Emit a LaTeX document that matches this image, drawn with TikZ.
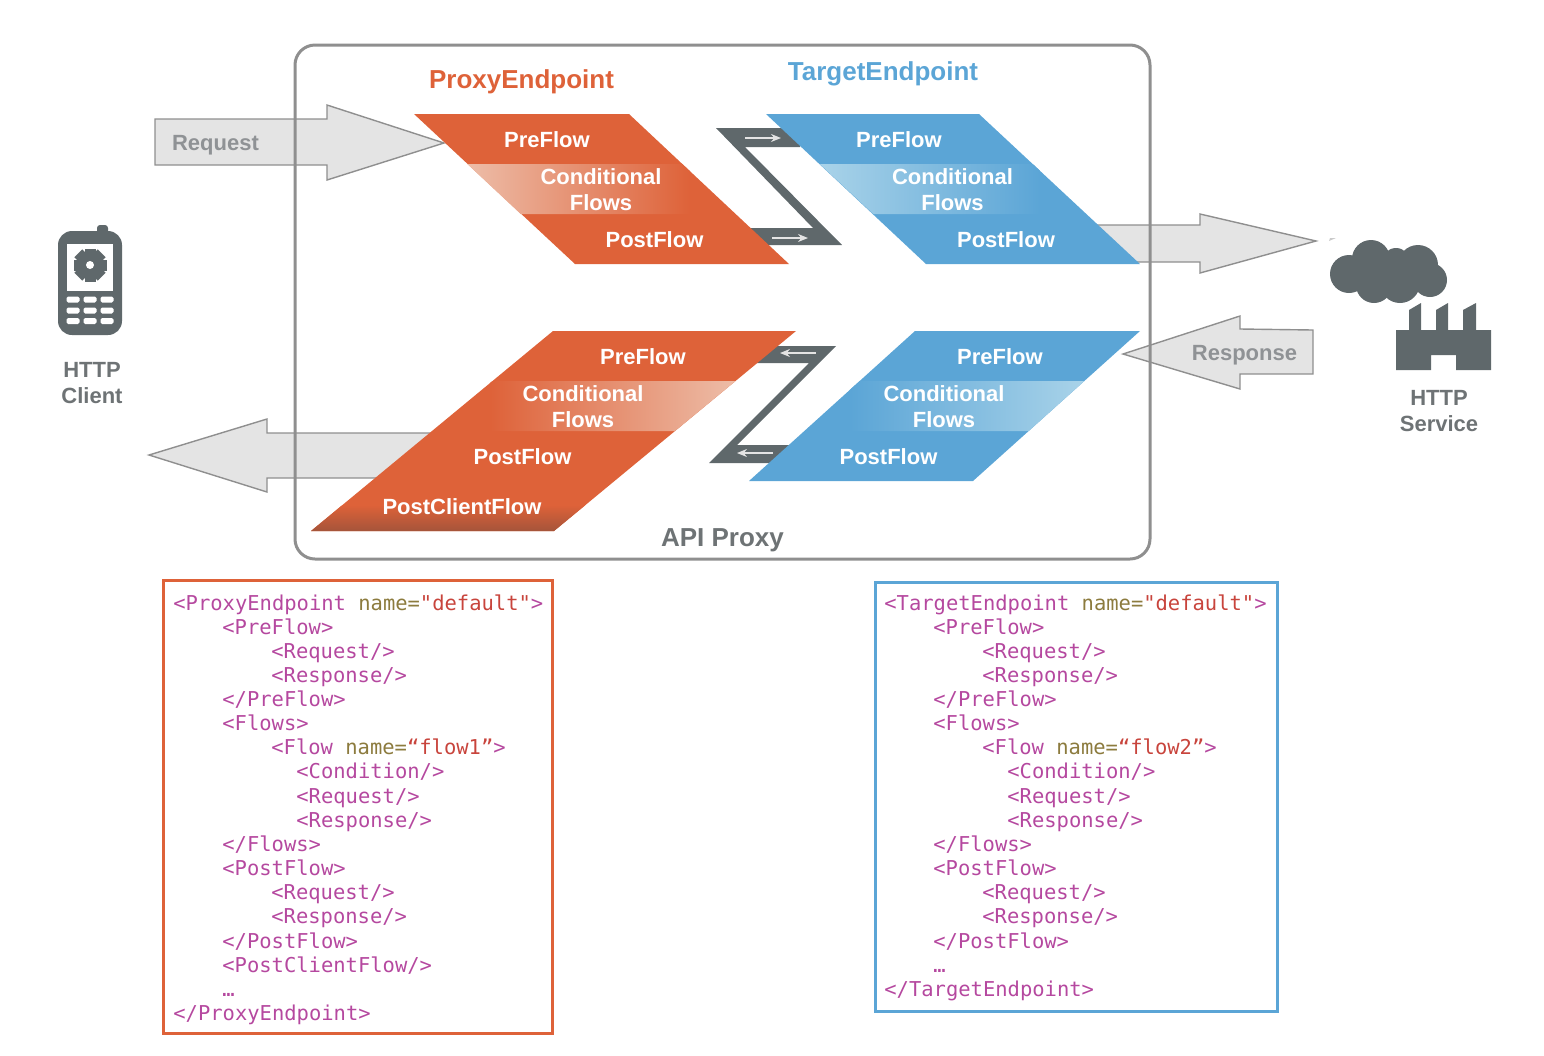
\documentclass[tikz,border=0pt]{standalone}
\usepackage{fontspec}
\setmainfont{Liberation Sans}
\newfontfamily\codefont{DejaVu Sans Mono}
\usetikzlibrary{arrows.meta}
\definecolor{org}{HTML}{DE6239}
\definecolor{orgl}{HTML}{EDBDA8}
\definecolor{orgd}{HTML}{A5543A}
\definecolor{blu}{HTML}{5BA5D6}
\definecolor{blul}{HTML}{A9D3E9}
\definecolor{dk}{HTML}{5F686B}
\definecolor{gtx}{HTML}{6E7375}
\definecolor{gtl}{HTML}{8F9295}
\definecolor{fr}{HTML}{8F8F8F}
\definecolor{arf}{HTML}{E4E4E4}
\definecolor{tagc}{HTML}{B5489F}
\definecolor{attc}{HTML}{8C7B3E}
\definecolor{valc}{HTML}{C8443C}
\tikzset{
  x=0.5pt,y=-0.5pt,
  bigarrow/.style={fill=arf,draw=fr,line width=0.7pt,line join=miter},
  flowlabel/.style={text=white,font=\bfseries\fontsize{11}{13}\selectfont,align=center,inner sep=0pt},
  greylabel/.style={text=gtx,font=\bfseries\fontsize{11}{13}\selectfont,align=center,inner sep=0pt},
  arrowlabel/.style={text=gtl,font=\bfseries\fontsize{11}{13}\selectfont,inner sep=0pt},
  titlelabel/.style={font=\bfseries\fontsize{13}{15}\selectfont,inner sep=0pt},
  codeline/.style={anchor=base west,inner sep=0pt,text=tagc,font=\codefont\fontsize{10.24}{12}\selectfont},
  wire/.style={draw=arf,line width=0.7pt,-{Stealth[length=5pt,width=4pt]}},
  zshape/.style={fill=dk},
  icon/.style={fill=dk}
}
\newcommand{\att}[1]{\textcolor{attc}{#1}}
\newcommand{\val}[1]{\textcolor{valc}{#1}}
\newcommand{\cdl}[4]{\node[codeline] (#1) at (#2,#3) {#4};}
\begin{document}
\begin{tikzpicture}
\useasboundingbox (0,0) rectangle (1544,1056);
% grey arrows
\draw[bigarrow] (155,119) -- (327,119) -- (327,105) -- (444,143) -- (327,180) -- (327,165) -- (155,165) -- cycle;
\draw[bigarrow] (1090,225) -- (1200,225) -- (1200,214) -- (1316,241) -- (1200,273) -- (1200,262) -- (1090,262) -- cycle;
\draw[bigarrow] (1123,354) -- (1240,316) -- (1240,329) -- (1313,330) -- (1313,374) -- (1240,374) -- (1240,389) -- cycle;
\draw[bigarrow] (149,455) -- (267,419) -- (267,433) -- (450,433) -- (450,478) -- (267,478) -- (267,492) -- cycle;
\fill[arf!70!fr] (1329,241) -- (1336,238) -- (1330,238) -- cycle;
% API proxy frame
\draw[fr,line width=1.5pt,rounded corners=10pt] (295,45) rectangle (1150,559);
% Z connectors
\fill[zshape] (716,128) -- (800,128) -- (800,147) -- (745,147) -- (842,245) -- (765,245) -- (750,228) -- (813,228) -- cycle;
\fill[zshape] (836,346) -- (770,346) -- (755,363) -- (809,363) -- (709,463) -- (770,463) -- (790,445) -- (737,445) -- cycle;
% Proxy request
\fill[org] (414,114) -- (629,114) -- (789,264) -- (575,264) -- cycle;
\begin{scope}
\clip (467.3,164) -- (682.3,164) -- (735.7,214) -- (520.7,214) -- cycle;
\shade[left color=orgl,right color=org] (467,164) rectangle (690,214);
\end{scope}
% Target request
\fill[blu] (766,114) -- (979,114) -- (1140,264) -- (926,264) -- cycle;
\begin{scope}
\clip (819.7,164) -- (1032.7,164) -- (1086.3,214) -- (873.3,214) -- cycle;
\shade[left color=blul,right color=blu] (820,164) rectangle (1040,214);
\end{scope}
% Proxy response
\fill[org] (553,331) -- (796,331) -- (554,531) -- (311,531) -- cycle;
\begin{scope}
\clip (492.5,381) -- (735.5,381) -- (675,431) -- (432,431) -- cycle;
\shade[left color=org,right color=orgl] (490,381) rectangle (736,431);
\end{scope}
\begin{scope}
\clip (553,331) -- (796,331) -- (554,531) -- (311,531) -- cycle;
\shade[top color=org,bottom color=orgd] (300,505) rectangle (600,531);
\end{scope}
% Target response
\fill[blu] (915,331) -- (1140,331) -- (973,481) -- (749,481) -- cycle;
\begin{scope}
\clip (859.7,381) -- (1084.3,381) -- (1028.7,431) -- (804.3,431) -- cycle;
\shade[left color=blu,right color=blul] (850,381) rectangle (1085,431);
\end{scope}
% wires
\coordinate (w1a) at (745,138); \coordinate (w1b) at (781,138);
\coordinate (w2a) at (772,238); \coordinate (w2b) at (808,238);
\coordinate (w3a) at (816,353); \coordinate (w3b) at (780,353);
\coordinate (w4a) at (773,453); \coordinate (w4b) at (737,453);
\draw[wire] (w1a) -- (w1b);
\draw[wire] (w2a) -- (w2b);
\draw[wire] (w3a) -- (w3b);
\draw[wire] (w4a) -- (w4b);
% labels
\node[titlelabel,text=org] (pe) at (521.5,82) {ProxyEndpoint};
\node[titlelabel,text=blu] (te) at (883,74) {TargetEndpoint};
\node[titlelabel,text=gtx] (api) at (722.5,540) {API Proxy};
\node[arrowlabel] (req) at (215.5,145) {Request};
\node[arrowlabel] (resp) at (1244.5,355) {Response};
\node[greylabel] (cl) at (92,383) {HTTP\\Client};
\node[greylabel] (sv) at (1439,411) {HTTP\\Service};
\node[flowlabel] (a1) at (547,140) {PreFlow};
\node[flowlabel] (a2) at (601,190) {Conditional\\Flows};
\node[flowlabel] (a3) at (654.5,240) {PostFlow};
\node[flowlabel] (b1) at (899,140) {PreFlow};
\node[flowlabel] (b2) at (952.5,190) {Conditional\\Flows};
\node[flowlabel] (b3) at (1006,240) {PostFlow};
\node[flowlabel] (c1) at (643,357) {PreFlow};
\node[flowlabel] (c2) at (583,407) {Conditional\\Flows};
\node[flowlabel] (c3) at (522.5,457) {PostFlow};
\node[flowlabel] (c4) at (462,507) {PostClientFlow};
\node[flowlabel] (d1) at (1000,357) {PreFlow};
\node[flowlabel] (d2) at (944,407) {Conditional\\Flows};
\node[flowlabel] (d3) at (888.5,457) {PostFlow};
% phone
\fill[icon,rounded corners=1.5pt] (97,225) rectangle (108,236);
\fill[icon,rounded corners=7pt] (58,231) rectangle (122,335);
\fill[white] (67,244) rectangle (113,291);
\foreach \a in {0,45,...,315}{\fill[icon,rotate around={\a:(90,265)}] (84.5,248.5) rectangle (95.5,258);}
\fill[icon] (90,265) circle[radius=12.5];
\fill[white] (90,265) circle[radius=4];
\foreach \kx in {73,90,107}{\foreach \ky in {299.5,310.5,321}{\fill[white,rounded corners=0.8pt] (\kx-6.5,\ky-3) rectangle (\kx+6.5,\ky+3);}}
% cloud
\foreach \cx/\cy/\cr in {1349/274/19,1371/259/19,1374/285/18,1400/283/20,1418/265/20,1430/280/17,1396/262/14,1385/270/18}{\fill[icon] (\cx,\cy) circle[radius=\cr];}
% factory
\fill[icon] (1396,330) -- (1409,330) -- (1409,310) -- (1421,303) -- (1421,330) -- (1436,330) -- (1436,310) -- (1448,303) -- (1448,330) -- (1463,330) -- (1463,310) -- (1476,303) -- (1476,330) -- (1491,330) -- (1491,370) -- (1456,370) -- (1456,355) -- (1431,355) -- (1431,370) -- (1396,370) -- cycle;
% code boxes
\draw[org,line width=1.5pt] (163,580) rectangle (552,1033);
\draw[blu,line width=1.5pt] (875,582) rectangle (1277,1011);
% proxy code
\cdl{p1}{173}{610}{<ProxyEndpoint \att{name=}\val{"default"}>}
\cdl{p2}{222}{634}{<PreFlow>}
\cdl{p3}{271}{658}{<Request/>}
\cdl{p4}{271}{682}{<Response/>}
\cdl{p5}{222}{706}{</PreFlow>}
\cdl{p6}{222}{730}{<Flows>}
\cdl{p7}{271}{754}{<Flow \att{name=}\val{“flow1”}>}
\cdl{p8}{296}{778}{<Condition/>}
\cdl{p9}{296}{803}{<Request/>}
\cdl{p10}{296}{827}{<Response/>}
\cdl{p11}{222}{851}{</Flows>}
\cdl{p12}{222}{875}{<PostFlow>}
\cdl{p13}{271}{899}{<Request/>}
\cdl{p14}{271}{923.5}{<Response/>}
\cdl{p15}{222}{948}{</PostFlow>}
\cdl{p16}{222}{972}{<PostClientFlow/>}
\cdl{p17}{222}{996}{…}
\cdl{p18}{173}{1020}{</ProxyEndpoint>}
% target code
\cdl{t1}{884}{610}{<TargetEndpoint \att{name=}\val{"default"}>}
\cdl{t2}{933}{634}{<PreFlow>}
\cdl{t3}{982}{658}{<Request/>}
\cdl{t4}{982}{682}{<Response/>}
\cdl{t5}{933}{706}{</PreFlow>}
\cdl{t6}{933}{730}{<Flows>}
\cdl{t7}{982}{754}{<Flow \att{name=}\val{“flow2”}>}
\cdl{t8}{1007}{778}{<Condition/>}
\cdl{t9}{1007}{803}{<Request/>}
\cdl{t10}{1007}{827}{<Response/>}
\cdl{t11}{933}{851}{</Flows>}
\cdl{t12}{933}{875}{<PostFlow>}
\cdl{t13}{982}{899}{<Request/>}
\cdl{t14}{982}{923.5}{<Response/>}
\cdl{t15}{933}{948}{</PostFlow>}
\cdl{t16}{933}{972}{…}
\cdl{t17}{884}{996}{</TargetEndpoint>}
\end{tikzpicture}
\end{document}
